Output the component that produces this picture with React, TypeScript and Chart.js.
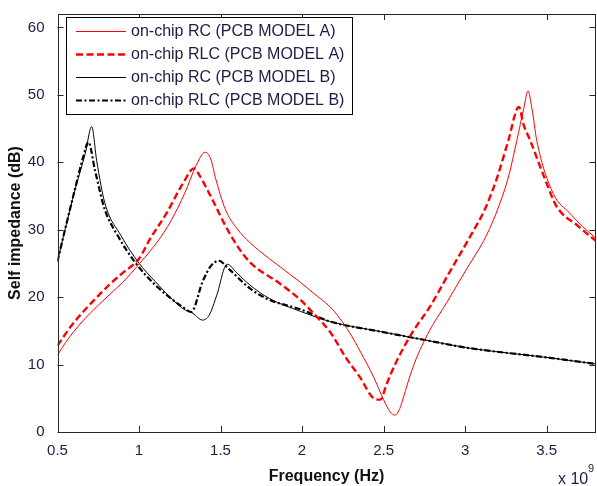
import React, { useEffect, useRef } from "react";
import { Chart, registerables } from "chart.js";

Chart.register(...registerables);

// Frequency in units of 1e9 Hz, impedance in dB
const rcA_x = [0.5, 0.55, 0.6, 0.66, 0.75, 0.82, 0.9, 1.0, 1.07, 1.15, 1.2, 1.28, 1.35, 1.405, 1.44, 1.47, 1.53, 1.6, 1.68, 1.8, 1.865, 1.99, 2.07, 2.17, 2.23, 2.29, 2.356, 2.44, 2.5, 2.54, 2.57, 2.6, 2.62, 2.68, 2.77, 2.89, 3.01, 3.13, 3.215, 3.27, 3.317, 3.36, 3.386, 3.41, 3.44, 3.54, 3.64, 3.72, 3.8];
const rcA_y = [11.4, 13.3, 14.9, 16.6, 18.8, 20.4, 22.2, 24.9, 26.9, 29.5, 31.5, 35.4, 39.5, 41.5, 40.5, 37.6, 33.0, 30.2, 28.1, 25.7, 24.5, 22.2, 20.6, 18.6, 16.9, 14.8, 12.0, 8.1, 4.8, 3.0, 2.5, 3.5, 5.0, 9.6, 14.5, 19.3, 24.2, 29.1, 34.0, 38.2, 43.2, 48.0, 50.6, 48.0, 43.2, 35.4, 32.5, 30.5, 28.8];

const rlcA_x = [0.5, 0.58, 0.66, 0.75, 0.82, 0.9, 1.0, 1.067, 1.17, 1.27, 1.338, 1.37, 1.42, 1.466, 1.53, 1.6, 1.68, 1.865, 1.99, 2.07, 2.17, 2.27, 2.356, 2.44, 2.48, 2.52, 2.58, 2.68, 2.785, 2.9, 3.01, 3.13, 3.2, 3.265, 3.33, 3.36, 3.4, 3.5, 3.56, 3.69, 3.8];
const rlcA_y = [12.8, 15.6, 17.9, 20.2, 21.9, 23.6, 25.7, 28.6, 32.5, 36.9, 39.1, 38.1, 35.9, 33.7, 30.6, 27.7, 25.2, 22.0, 19.6, 17.6, 14.9, 11.0, 8.1, 5.0, 4.8, 7.2, 10.5, 14.9, 18.6, 23.5, 28.1, 33.5, 38.0, 43.2, 48.2, 45.5, 43.2, 36.9, 33.5, 30.6, 28.4];

const rcB_x = [0.5, 0.546, 0.607, 0.67, 0.71, 0.74, 0.79, 0.89, 0.995, 1.1, 1.27, 1.33, 1.39, 1.43, 1.477, 1.54, 1.6, 1.68, 1.8, 1.99, 2.17, 2.48, 2.785, 3.01, 3.52, 3.8];
const rcB_y = [25.3, 30.0, 35.9, 41.3, 45.3, 40.3, 34.0, 29.1, 25.2, 22.3, 18.3, 17.6, 16.6, 17.3, 20.3, 24.9, 23.6, 21.8, 19.8, 17.9, 16.4, 14.9, 13.5, 12.5, 11.0, 10.1];

const rlcB_x = [0.5, 0.546, 0.607, 0.66, 0.69, 0.73, 0.79, 0.87, 0.975, 1.1, 1.27, 1.32, 1.39, 1.44, 1.49, 1.55, 1.68, 1.8, 1.99, 2.17, 2.48, 2.785, 3.01, 3.52, 3.8];
const rlcB_y = [25.3, 30.0, 36.0, 41.0, 43.0, 38.8, 33.0, 29.1, 25.2, 21.8, 18.5, 17.8, 22.3, 24.6, 25.4, 24.2, 21.3, 19.6, 18.2, 16.4, 14.9, 13.5, 12.5, 11.0, 10.1];

const seriesLabels = [
  "on-chip RC (PCB MODEL A)",
  "on-chip RLC (PCB MODEL A)",
  "on-chip RC (PCB MODEL B)",
  "on-chip RLC (PCB MODEL B)",
];

const xTicks = [0.5, 1, 1.5, 2, 2.5, 3, 3.5];
const yTicks = [0, 10, 20, 30, 40, 50, 60];

const toPts = (xs: number[], ys: number[]) => xs.map((x, i) => ({ x, y: ys[i] }));

const styles = [
  { color: "#ff0000", width: 1, dash: [] as number[] },
  { color: "#ff0000", width: 2.4, dash: [7, 3.5] },
  { color: "#000000", width: 1, dash: [] as number[] },
  { color: "#000000", width: 2.2, dash: [6, 2.5, 2, 2.5] },
];

const TICK_COLOR = "#1c1c44";
const FONT = "'Liberation Sans', Arial, sans-serif";

const decorPlugin = {
  id: "decor",
  afterDatasetsDraw(chart: any) {
    const ctx = chart.ctx;
    const a = chart.chartArea;
    const xs = chart.scales.x;
    const ys = chart.scales.y;
    ctx.save();
    // box
    ctx.strokeStyle = "#262626";
    ctx.lineWidth = 1;
    ctx.setLineDash([]);
    ctx.strokeRect(Math.round(a.left) + 0.5, Math.round(a.top) + 0.5, Math.round(a.right - a.left) - 1, Math.round(a.bottom - a.top));
    // inward ticks
    const tl = 6;
    ctx.beginPath();
    xTicks.forEach((v) => {
      const px = Math.round(xs.getPixelForValue(v)) + 0.5;
      ctx.moveTo(px, a.bottom);
      ctx.lineTo(px, a.bottom - tl);
      ctx.moveTo(px, a.top);
      ctx.lineTo(px, a.top + tl);
    });
    yTicks.forEach((v) => {
      const py = Math.round(ys.getPixelForValue(v)) + 0.5;
      ctx.moveTo(a.left, py);
      ctx.lineTo(a.left + tl, py);
      ctx.moveTo(a.right, py);
      ctx.lineTo(a.right - tl, py);
    });
    ctx.stroke();

    // legend
    const lx = 66.5, ly = 17.5, lw = 286, lh = 97;
    ctx.fillStyle = "#ffffff";
    ctx.fillRect(lx, ly, lw, lh);
    ctx.strokeStyle = "#000000";
    ctx.lineWidth = 1;
    ctx.strokeRect(lx, ly, lw, lh);
    const rowY = [31, 54, 77, 100];
    ctx.font = `16px ${FONT}`;
    ctx.textBaseline = "middle";
    ctx.textAlign = "left";
    seriesLabels.forEach((lab, i) => {
      const s = styles[i];
      ctx.strokeStyle = s.color;
      ctx.lineWidth = s.width;
      ctx.setLineDash(s.dash);
      ctx.beginPath();
      ctx.moveTo(76, rowY[i] + 0.5);
      ctx.lineTo(126, rowY[i] + 0.5);
      ctx.stroke();
      ctx.setLineDash([]);
      ctx.fillStyle = TICK_COLOR;
      ctx.fillText(lab, 131, rowY[i] + 1);
    });

    // x 10^9
    ctx.fillStyle = TICK_COLOR;
    ctx.font = `16px ${FONT}`;
    ctx.textBaseline = "alphabetic";
    ctx.fillText("x 10", 558, 484);
    ctx.font = `11px ${FONT}`;
    ctx.fillText("9", 588, 472);
    ctx.restore();
  },
};

export default function App() {
  const ref = useRef<HTMLCanvasElement | null>(null);
  useEffect(() => {
    if (!ref.current) return;
    const datasets = [
      [rcA_x, rcA_y],
      [rlcA_x, rlcA_y],
      [rcB_x, rcB_y],
      [rlcB_x, rlcB_y],
    ].map(([xs, ys], i) => ({
      label: seriesLabels[i],
      data: toPts(xs, ys),
      borderColor: styles[i].color,
      borderWidth: styles[i].width,
      borderDash: styles[i].dash,
      pointRadius: 0,
      fill: false,
      cubicInterpolationMode: "monotone" as const,
    }));
    const chart = new Chart(ref.current, {
      type: "line",
      data: { datasets },
      plugins: [decorPlugin],
      options: {
        animation: false,
        responsive: false,
        devicePixelRatio: 1,
        layout: { padding: { top: 8, right: 1.5, left: 0, bottom: 0 } },
        plugins: { legend: { display: false }, tooltip: { enabled: false } },
        scales: {
          x: {
            type: "linear",
            min: 0.5,
            max: 3.8,
            grid: { display: false },
            border: { display: false },
            afterFit: (s: any) => { s.height = 54; },
            afterBuildTicks: (s: any) => { s.ticks = xTicks.map((v) => ({ value: v })); },
            ticks: {
              color: TICK_COLOR,
              font: { family: FONT, size: 15 },
              padding: 2,
              maxRotation: 0,
              callback: (v: any) => String(v),
            },
            title: {
              display: true,
              text: "Frequency (Hz)",
              color: "#111111",
              font: { family: FONT, size: 16, weight: "bold" },
              padding: { top: 0, bottom: 0 },
            },
          },
          y: {
            min: 0,
            max: 62,
            grid: { display: false },
            border: { display: false },
            afterFit: (s: any) => { s.width = 57.5; },
            afterBuildTicks: (s: any) => { s.ticks = yTicks.map((v) => ({ value: v })); },
            ticks: {
              color: TICK_COLOR,
              font: { family: FONT, size: 15 },
              padding: 5,
              callback: (v: any) => String(v),
            },
            title: {
              display: true,
              text: "Self impedance (dB)",
              color: "#111111",
              font: { family: FONT, size: 16, weight: "bold" },
              padding: { top: 6, bottom: 0 },
            },
          },
        },
      },
    });
    return () => chart.destroy();
  }, []);
  return (
    <div style={{ position: "fixed", left: 0, top: 0, width: 597, height: 486, background: "#fff" }}>
      <canvas ref={ref} width={597} height={486} style={{ width: 597, height: 486, display: "block" }} />
    </div>
  );
}
